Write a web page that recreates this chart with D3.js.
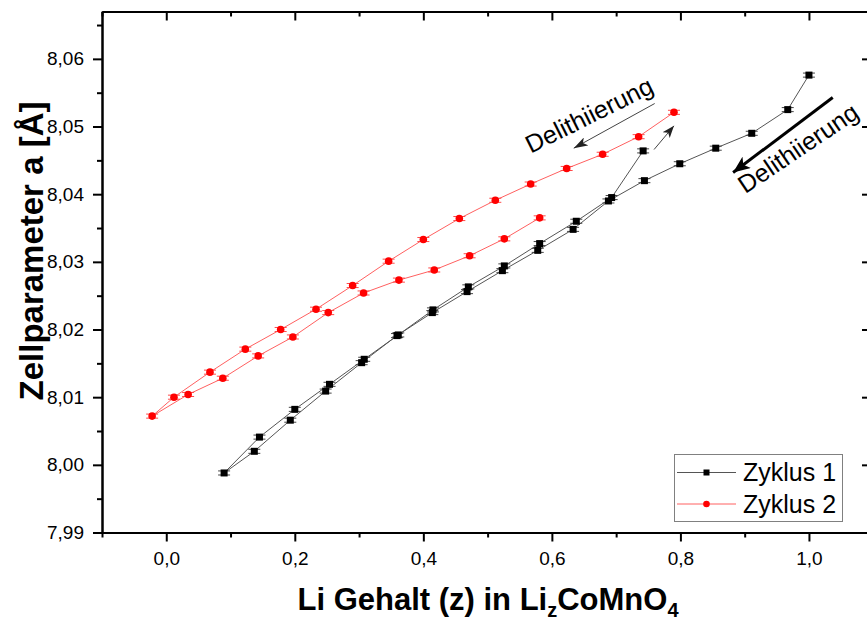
<!DOCTYPE html>
<html>
<head>
<meta charset="utf-8">
<script src="https://cdn.jsdelivr.net/npm/d3@7"></script>
<style>
  html, body { margin: 0; padding: 0; background: #fff; }
  svg { display: block; font-family: "Liberation Sans", Arial, sans-serif; }
</style>
</head>
<body>
<svg id="chart" width="867" height="624"></svg>
<script>
// Li content z and lattice parameter a for two cycles (in measurement order)
const zyklus1Z = [1.000, 0.967, 0.911, 0.855, 0.799, 0.744, 0.688, 0.633, 0.578, 0.523,
                  0.468, 0.414, 0.359, 0.304, 0.248, 0.193, 0.137, 0.090, 0.145, 0.200,
                  0.254, 0.308, 0.361, 0.415, 0.470, 0.526, 0.581, 0.638, 0.693, 0.742];
const zyklus1A = [8.0576, 8.0525, 8.0490, 8.0468, 8.0445, 8.0420, 8.0390, 8.0348, 8.0317, 8.0287,
                  8.0256, 8.0225, 8.0191, 8.0151, 8.0109, 8.0066, 8.0020, 7.9988, 8.0041, 8.0082,
                  8.0119, 8.0156, 8.0192, 8.0229, 8.0263, 8.0294, 8.0327, 8.0360, 8.0395, 8.0464];
const zyklus2Z = [0.790, 0.735, 0.679, 0.623, 0.567, 0.512, 0.456, 0.400, 0.346, 0.290,
                  0.233, 0.178, 0.123, 0.068, 0.012, -0.022, 0.034, 0.088, 0.143, 0.197,
                  0.252, 0.307, 0.362, 0.417, 0.472, 0.526, 0.581];
const zyklus2A = [8.0521, 8.0485, 8.0459, 8.0438, 8.0415, 8.0391, 8.0364, 8.0333, 8.0301, 8.0265,
                  8.0230, 8.0200, 8.0171, 8.0137, 8.0100, 8.0072, 8.0104, 8.0128, 8.0161, 8.0189,
                  8.0225, 8.0254, 8.0273, 8.0288, 8.0309, 8.0334, 8.0365];
// symmetric uncertainty of a
const errA1 = 0.0003;
const errA2 = 0.0003;

const seriesNames = ["Zyklus 1", "Zyklus 2"];
const xMajorTicks = [0.0, 0.2, 0.4, 0.6, 0.8, 1.0];
const xMinorTicks = [-0.1, 0.1, 0.3, 0.5, 0.7, 0.9];
const yMajorTicks = [7.99, 8.00, 8.01, 8.02, 8.03, 8.04, 8.05, 8.06];
const yMinorTicks = [7.995, 8.005, 8.015, 8.025, 8.035, 8.045, 8.055, 8.065];
const annotationText = "Delithiierung";
const xTitle = ["Li Gehalt (z) in Li", "z", "CoMnO", "4"];
const yTitle = "Zellparameter a [Å]";

const svg = d3.select("#chart");
const W = 867, H = 624;
const pLeft = 102, pRight = 870, pTop = 11.5, pBottom = 532.5;

const x = d3.scaleLinear().domain([-0.1, 1.095]).range([pLeft, pRight]);
const y = d3.scaleLinear().domain([7.99, 8.067]).range([pBottom, pTop]);

const de = d3.formatLocale({decimal: ",", thousands: ".", grouping: [3], currency: ["", ""]});
const fx = de.format(".1f"), fy = de.format(".2f");

svg.append("rect").attr("width", W).attr("height", H).attr("fill", "#fff");

// ---- axes ----
function styleAxis(g) {
  g.selectAll("path.domain").attr("stroke", "#000").attr("stroke-width", 2);
  g.selectAll(".tick line").attr("stroke", "#000").attr("stroke-width", 2);
  g.selectAll(".tick text").attr("fill", "#000").style("font-size", "19px")
    .style("font-family", "'Liberation Sans', Arial, sans-serif");
}
// bottom
svg.append("g").attr("transform", `translate(0,${pBottom})`)
  .call(d3.axisBottom(x).tickValues(xMinorTicks).tickSize(5).tickSizeOuter(0).tickFormat(""))
  .call(styleAxis);
svg.append("g").attr("transform", `translate(0,${pBottom})`)
  .call(d3.axisBottom(x).tickValues(xMajorTicks).tickSize(9).tickSizeOuter(0).tickPadding(10).tickFormat(fx))
  .call(styleAxis);
// top (inward)
svg.append("g").attr("transform", `translate(0,${pTop})`)
  .call(d3.axisBottom(x).tickValues(xMinorTicks).tickSize(5).tickSizeOuter(0).tickFormat(""))
  .call(styleAxis);
svg.append("g").attr("transform", `translate(0,${pTop})`)
  .call(d3.axisBottom(x).tickValues(xMajorTicks).tickSize(9).tickSizeOuter(0).tickFormat(""))
  .call(styleAxis);
// left
svg.append("g").attr("transform", `translate(${pLeft},0)`)
  .call(d3.axisLeft(y).tickValues(yMinorTicks).tickSize(5).tickSizeOuter(0).tickFormat(""))
  .call(styleAxis);
svg.append("g").attr("transform", `translate(${pLeft},0)`)
  .call(d3.axisLeft(y).tickValues(yMajorTicks).tickSize(9).tickSizeOuter(0).tickPadding(9).tickFormat(fy))
  .call(styleAxis);
// right (inward)
svg.append("g").attr("transform", `translate(${pRight},0)`)
  .call(d3.axisLeft(y).tickValues(yMajorTicks).tickSize(8).tickSizeOuter(0).tickFormat(""))
  .call(styleAxis);

// ---- axis titles ----
const xt = svg.append("text").attr("x", 488).attr("y", 610)
  .attr("text-anchor", "middle").attr("font-weight", "bold").attr("font-size", 31).attr("fill", "#000");
xt.append("tspan").text(xTitle[0]);
xt.append("tspan").attr("font-size", 20).attr("dy", 7).text(xTitle[1]);
xt.append("tspan").attr("dy", -7).text(xTitle[2]);
xt.append("tspan").attr("font-size", 20).attr("dy", 7).text(xTitle[3]);

svg.append("text").attr("transform", "rotate(-90)")
  .attr("x", -251).attr("y", 43)
  .attr("text-anchor", "middle").attr("font-weight", "bold").attr("font-size", 33).attr("fill", "#000")
  .text(yTitle);

// ---- series ----
const plot = svg.append("g");
function drawSeries(zs, as, err, lineColor, barColor, markColor, shape) {
  const pts = zs.map((z, i) => ({z, a: as[i]}));
  plot.append("path").datum(pts)
    .attr("fill", "none").attr("stroke", lineColor).attr("stroke-width", 1)
    .attr("d", d3.line().x(d => x(d.z)).y(d => y(d.a)));
  const eb = plot.append("g").attr("stroke", barColor).attr("stroke-width", 1);
  pts.forEach(d => {
    const cx = x(d.z), y1 = y(d.a + err), y2 = y(d.a - err);
    eb.append("line").attr("x1", cx).attr("x2", cx).attr("y1", y1).attr("y2", y2);
    eb.append("line").attr("x1", cx - 6).attr("x2", cx + 6).attr("y1", y1).attr("y2", y1);
    eb.append("line").attr("x1", cx - 6).attr("x2", cx + 6).attr("y1", y2).attr("y2", y2);
  });
  const mk = plot.append("g").attr("fill", markColor);
  if (shape === "square") {
    mk.selectAll("rect").data(pts).join("rect")
      .attr("x", d => x(d.z) - 3.5).attr("y", d => y(d.a) - 3.5).attr("width", 7).attr("height", 7);
  } else {
    mk.selectAll("circle").data(pts).join("circle")
      .attr("cx", d => x(d.z)).attr("cy", d => y(d.a)).attr("r", 3.8);
  }
}
drawSeries(zyklus1Z, zyklus1A, errA1, "#555", "#444", "#000", "square");
drawSeries(zyklus2Z, zyklus2A, errA2, "#ff6060", "#ff4a4a", "#ff0000", "circle");

// ---- annotations ----
const defs = svg.append("defs");
function head(id, len, wid, color) {
  defs.append("marker").attr("id", id).attr("markerUnits", "userSpaceOnUse")
    .attr("viewBox", `0 0 ${len} ${wid}`).attr("refX", len).attr("refY", wid / 2)
    .attr("markerWidth", len).attr("markerHeight", wid).attr("orient", "auto")
    .append("path").attr("d", `M0,0 L${len},${wid / 2} L0,${wid} L${len * 0.25},${wid / 2} Z`).attr("fill", color);
}
head("hThin", 14, 9, "#222");
head("hThick", 17, 14, "#000");
head("hSmall", 12, 9, "#222");

function arrow(z1, a1, z2, a2, w, color, mid) {
  svg.append("line").attr("x1", x(z1)).attr("y1", y(a1)).attr("x2", x(z2)).attr("y2", y(a2))
    .attr("stroke", color).attr("stroke-width", w).attr("marker-end", `url(#${mid})`);
}
arrow(0.760, 8.0534, 0.634, 8.0468, 1, "#444", "hThin");
arrow(1.037, 8.0543, 0.882, 8.0432, 3, "#000", "hThick");
arrow(0.759, 8.0466, 0.790, 8.0501, 1, "#444", "hSmall");

function rotLabel(z, a, ang) {
  svg.append("text").attr("transform", `translate(${x(z)},${y(a)}) rotate(${ang})`)
    .attr("text-anchor", "middle").attr("dy", "0.35em").attr("font-size", 25).attr("fill", "#000")
    .text(annotationText);
}
rotLabel(0.658, 8.0517, -26.5);
rotLabel(0.983, 8.0468, -34);

// ---- legend ----
const lg = svg.append("g");
lg.append("rect").attr("x", 674.5).attr("y", 454.5).attr("width", 168).attr("height", 67)
  .attr("fill", "#fff").attr("stroke", "#808080").attr("stroke-width", 1);
const legendRows = [
  {name: seriesNames[0], line: "#555", mark: "#000", shape: "square", yy: 472.5},
  {name: seriesNames[1], line: "#ff6060", mark: "#ff0000", shape: "circle", yy: 504}
];
legendRows.forEach(r => {
  lg.append("line").attr("x1", 677).attr("x2", 736).attr("y1", r.yy).attr("y2", r.yy)
    .attr("stroke", r.line).attr("stroke-width", 1);
  if (r.shape === "square") {
    lg.append("rect").attr("x", 703.5).attr("y", r.yy - 3).attr("width", 6).attr("height", 6).attr("fill", r.mark);
  } else {
    lg.append("circle").attr("cx", 706.5).attr("cy", r.yy).attr("r", 3.3).attr("fill", r.mark);
  }
  lg.append("text").attr("x", 743).attr("y", r.yy + 8.5).attr("font-size", 25).attr("fill", "#000").text(r.name);
});
</script>
</body>
</html>
